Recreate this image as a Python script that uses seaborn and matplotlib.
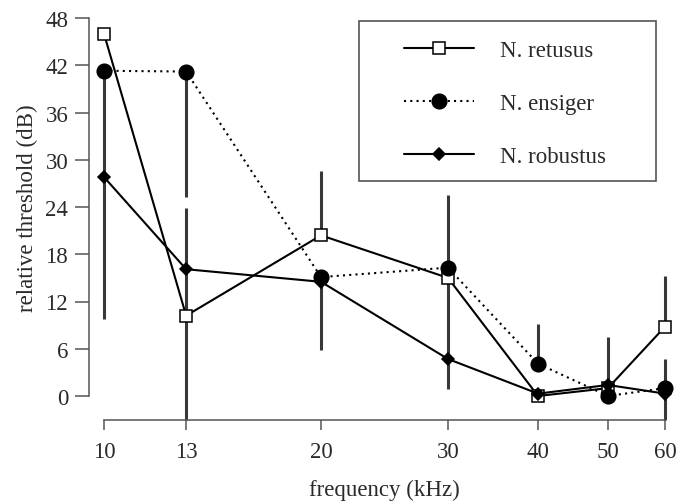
import matplotlib
matplotlib.use("Agg")
import matplotlib.pyplot as plt
from matplotlib.lines import Line2D
from matplotlib.patches import Rectangle
from matplotlib.ticker import FixedLocator, FixedFormatter, NullLocator
import numpy as np
import pandas as pd
import seaborn as sns

# frequencies tested (kHz)
freq = [10, 13, 20, 30, 40, 50, 60]

# mean relative thresholds (dB)
retusus = [46.0, 10.2, 20.4, 15.0, 0.0, 1.0, 8.8]
ensiger = [41.3, 41.2, 15.1, 16.3, 4.1, 0.0, 1.0]
robustus = [27.8, 16.1, 14.5, 4.7, 0.3, 1.4, 0.3]

# error extents below / above each mean (dB)
retusus_lo = [0, 13.2, 0, 10.5, 0, 0, 0]
retusus_hi = [0, 13.7, 8.2, 10.5, 0, 0, 6.4]
ensiger_lo = [31.5, 15.9, 0, 0, 0, 0, 4.0]
ensiger_hi = [0, 0, 0, 0, 5.0, 0, 3.7]
robustus_lo = [0, 0, 8.7, 3.8, 0, 0, 0]
robustus_hi = [0, 0, 0, 0, 0, 6.1, 0]

species = ["N. retusus", "N. ensiger", "N. robustus"]
x_ticks = [10, 13, 20, 30, 40, 50, 60]
y_ticks = [0, 6, 12, 18, 24, 30, 36, 42, 48]

sns.set_theme(style="ticks")
plt.rcParams["font.family"] = ["Liberation Serif", "DejaVu Serif"]

FS = 16.5
TXT = "#2a2a2a"
W, H = 678, 502

fig = plt.figure(figsize=(W / 100, H / 100), dpi=100)
ax = fig.add_axes([104 / W, 105 / H, 561 / W, 378 / H])

df = pd.DataFrame({
    "freq": freq * 3,
    "threshold": retusus + ensiger + robustus,
    "species": np.repeat(species, len(freq)),
})

styles = {
    "N. retusus": dict(marker="s", ms=9.0, mfc="white", ls="-"),
    "N. ensiger": dict(marker="o", ms=10.5, mfc="black", ls=(0, (1, 2.0))),
    "N. robustus": dict(marker="D", ms=6.5, mfc="black", ls="-"),
}

sns.lineplot(
    data=df, x="freq", y="threshold", hue="species", style="species",
    hue_order=species, style_order=species,
    palette={s: "black" for s in species},
    markers={s: styles[s]["marker"] for s in species},
    dashes={"N. retusus": "", "N. ensiger": (1, 2.0), "N. robustus": ""},
    markeredgecolor="black", markeredgewidth=1.1, linewidth=1.5,
    estimator=None, sort=False, legend=False, ax=ax, zorder=3,
)

for line in ax.lines:
    for s in species:
        if line.get_marker() == styles[s]["marker"]:
            line.set_markersize(styles[s]["ms"])
            line.set_markerfacecolor(styles[s]["mfc"])
    line.set_clip_on(False)

# vertical error bars, drawn beneath the markers
for vals, lo, hi in [
    (retusus, retusus_lo, retusus_hi),
    (ensiger, ensiger_lo, ensiger_hi),
    (robustus, robustus_lo, robustus_hi),
]:
    v = np.array(vals)
    ax.vlines(freq, v - np.array(lo), v + np.array(hi),
              colors="#383838", linewidth=2.2, zorder=2, clip_on=False)

ax.set_xscale("log")
ax.set_xlim(10, 60)
ax.set_ylim(0, 48)
ax.xaxis.set_major_locator(FixedLocator(x_ticks))
ax.xaxis.set_major_formatter(FixedFormatter([str(t) for t in x_ticks]))
ax.xaxis.set_minor_locator(NullLocator())
ax.set_yticks(y_ticks)
ax.set_yticklabels([str(t) for t in y_ticks])

for side in ("top", "right"):
    ax.spines[side].set_visible(False)
ax.spines["left"].set_position(("outward", 15 * 0.72))
ax.spines["bottom"].set_position(("outward", 24 * 0.72))
ax.spines["left"].set_bounds(0, 48)
ax.spines["bottom"].set_bounds(10, 60)
for side in ("left", "bottom"):
    ax.spines[side].set_color("#555555")
    ax.spines[side].set_linewidth(1.1)

ax.tick_params(axis="y", length=10, width=1.1, color="#555555",
               labelsize=FS, labelcolor=TXT, pad=5)
ax.tick_params(axis="x", length=7.5, width=1.1, color="#555555",
               labelsize=FS, labelcolor=TXT, pad=7.5)

ax.set_xlabel("frequency (kHz)", fontsize=FS, color=TXT, labelpad=12)
ax.set_ylabel("relative threshold (dB)", fontsize=FS, color=TXT, labelpad=5)
ax.patch.set_visible(False)

handles = [
    Line2D([], [], color="black", lw=1.5, ls=styles[s]["ls"],
           marker=styles[s]["marker"], ms=styles[s]["ms"],
           mfc=styles[s]["mfc"], mec="black", mew=1.1)
    for s in species
]
fig.legend(handles, species, loc="upper left",
           bbox_to_anchor=(393 / W, 1 - 30 / H), frameon=False,
           fontsize=FS, labelcolor=TXT, handlelength=3.05,
           handletextpad=1.1, labelspacing=1.38, borderpad=0)

fig.patches.append(Rectangle((359 / W, 1 - 182 / H), 297 / W, 160 / H,
                             transform=fig.transFigure, fill=False,
                             edgecolor="#555555", linewidth=1.2))

fig.savefig("out.png", dpi=100)
